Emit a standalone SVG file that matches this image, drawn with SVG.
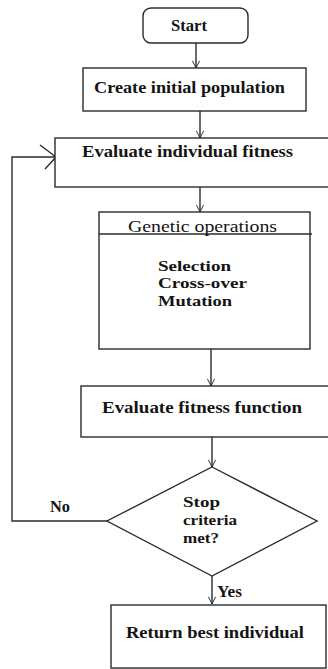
<svg xmlns="http://www.w3.org/2000/svg" width="328" height="669" viewBox="0 0 328 669">
<defs>
<style>
.box{fill:#fff;stroke:#2b2b2b;stroke-width:1.4}
.ln{fill:none;stroke:#2b2b2b;stroke-width:1.4}
.t{font-family:"Liberation Serif","Times New Roman",serif;font-size:17px;font-weight:bold;fill:#141414}
.r{font-weight:normal}
.s{font-size:15.5px}
</style>
<marker id="ah" viewBox="0 0 10 10" refX="10" refY="5" markerWidth="8" markerHeight="8" markerUnits="userSpaceOnUse" orient="auto">
<path d="M1,0.5 L10,5 L1,9.5" fill="none" stroke="#2b2b2b" stroke-width="1.2"/>
</marker>
</defs>
<rect width="328" height="669" fill="#fff"/>
<g id="connectors">
<line class="ln" x1="196" y1="43" x2="196" y2="68" marker-end="url(#ah)"/>
<line class="ln" x1="200" y1="111" x2="200" y2="138" marker-end="url(#ah)"/>
<line class="ln" x1="200" y1="187" x2="200" y2="212" marker-end="url(#ah)"/>
<line class="ln" x1="211" y1="349" x2="211" y2="386" marker-end="url(#ah)"/>
<line class="ln" x1="212" y1="437" x2="212" y2="467" marker-end="url(#ah)"/>
<line class="ln" x1="212" y1="576" x2="212" y2="604" marker-end="url(#ah)"/>
<polyline class="ln" points="107,521 12,521 12,157 56,157"/>
<polyline class="ln" points="40,145 56,157 45,169"/>
<text class="t" x="50" y="512" textLength="20" lengthAdjust="spacingAndGlyphs" font-size="15">No</text>
<text class="t" x="217" y="597" textLength="25" lengthAdjust="spacingAndGlyphs" font-size="15">Yes</text>
</g>
<g id="start">
<rect class="box" x="143" y="8" width="105" height="35" rx="8"/>
<text class="t" x="171" y="31" textLength="36" lengthAdjust="spacingAndGlyphs">Start</text>
</g>
<g id="create">
<rect class="box" x="83" y="68" width="223" height="43"/>
<text class="t" x="94" y="93" textLength="191" lengthAdjust="spacingAndGlyphs">Create initial population</text>
</g>
<g id="evaluate-individual">
<rect class="box" x="55" y="138" width="280" height="49"/>
<text class="t" x="82" y="157" textLength="211" lengthAdjust="spacingAndGlyphs">Evaluate individual fitness</text>
</g>
<g id="genetic">
<rect class="box" x="99" y="212" width="211" height="137"/>
<line class="ln" x1="99" y1="234" x2="312" y2="234"/>
<text class="t r" x="128" y="232" textLength="149" lengthAdjust="spacingAndGlyphs">Genetic operations</text>
<text class="t s" x="158" y="271" textLength="73" lengthAdjust="spacingAndGlyphs">Selection</text>
<text class="t s" x="158" y="288" textLength="89" lengthAdjust="spacingAndGlyphs">Cross-over</text>
<text class="t s" x="158" y="306" textLength="74" lengthAdjust="spacingAndGlyphs">Mutation</text>
</g>
<g id="evaluate-fitness">
<rect class="box" x="81" y="386" width="254" height="51"/>
<text class="t" x="102" y="413" textLength="200" lengthAdjust="spacingAndGlyphs">Evaluate fitness function</text>
</g>
<g id="decision">
<polygon class="box" points="212,467 317,521 212,576 107,521"/>
<text class="t s" x="183" y="507" textLength="37" lengthAdjust="spacingAndGlyphs">Stop</text>
<text class="t s" x="183" y="525" textLength="54" lengthAdjust="spacingAndGlyphs">criteria</text>
<text class="t s" x="183" y="543" textLength="36" lengthAdjust="spacingAndGlyphs">met?</text>
</g>
<g id="return">
<rect class="box" x="111" y="605" width="215" height="63"/>
<text class="t" x="126" y="638" textLength="178" lengthAdjust="spacingAndGlyphs">Return best individual</text>
</g>
</svg>
